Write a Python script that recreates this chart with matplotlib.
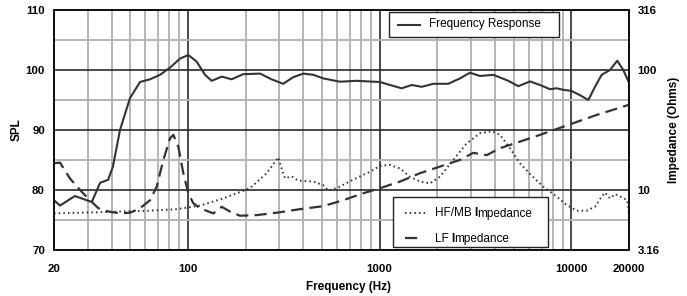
import matplotlib.pyplot as plt
from matplotlib.patches import Rectangle
from matplotlib.lines import Line2D
from matplotlib.ticker import FixedLocator, NullFormatter

plt.rcParams['font.family'] = ['Liberation Sans', 'DejaVu Sans']

W, H = 687, 296

# frequency response (dB SPL)
spl_freq = [20, 21.5, 25.7, 29.6, 31.5, 34.8, 38.3, 40.6, 44.2, 49.8, 56.2, 63.4,
            71.5, 80.6, 90.9, 100.4, 111, 122.7, 133, 150, 169, 194, 238, 273,
            314, 354, 400, 451, 508, 621, 759, 927, 1004, 1132, 1303, 1470, 1657,
            1905, 2280, 2626, 2962, 3340, 3918, 4692, 5292, 6088, 6864, 7740,
            8391, 9084, 10048, 11104, 12268, 13294, 14404, 15918, 17374, 18672, 20000]
spl = [78.3, 77.4, 79.0, 78.3, 78.0, 81.2, 81.7, 83.9, 90.0, 95.3, 98.0, 98.45,
       99.2, 100.4, 101.9, 102.5, 101.4, 99.2, 98.2, 98.9, 98.45, 99.3, 99.4, 98.45,
       97.7, 98.8, 99.4, 99.2, 98.6, 98.05, 98.2, 98.05, 98.0, 97.5, 96.95, 97.5, 97.2,
       97.7, 97.7, 98.6, 99.55, 99.0, 99.2, 98.2, 97.3, 98.1, 97.5, 96.8,
       96.95, 96.7, 96.5, 95.8, 95.0, 97.2, 99.2, 100.0, 101.55, 100.0, 97.9]

# HF/MB impedance (ohms)
hf_freq = [20, 34.8, 63.4, 87.4, 115.5, 152.9, 210.6, 257.6, 296, 308, 321, 348,
           376, 451, 508, 540, 597, 729, 891, 1004, 1132, 1277, 1440, 1624, 1831,
           2064, 2422, 2846, 3340, 3842, 4246, 4787, 5398, 6088, 6598, 7142, 8391,
           9462, 10670, 12030, 13294, 14404, 14990, 15918, 16900, 18310, 19590, 20000]
hf_z = [6.38, 6.53, 6.72, 6.92, 7.4, 8.51, 10.35, 13.8, 18.7, 15.1, 12.5, 13.0,
        11.96, 11.75, 10.96, 9.89, 10.35, 12.2, 14.2, 15.85, 16.2, 15.1, 12.9, 11.75, 11.35,
        12.9, 17.8, 24.5, 29.7, 30.9, 28.8, 22.3, 16.7, 13.6, 12.0, 10.66, 8.81,
        7.5, 6.72, 6.72, 7.24, 8.81, 9.5, 8.51, 9.23, 8.71, 8.22, 6.38]

# LF impedance (ohms)
lf_freq = [20, 21.5, 24.2, 27.9, 30.8, 34.1, 38.5, 44.2, 49.8, 56.2, 63.4, 68.7,
           74.4, 80.6, 83.9, 89.1, 94.6, 100.4, 106.6, 115.5, 135.6, 150, 165.7,
           186.8, 228, 290, 384, 508, 646, 822, 1004, 1277, 1624, 2064, 2626,
           3081, 3340, 3618, 4246, 5398, 6864, 9084, 13560, 20000]
lf_z = [16.7, 16.9, 12.5, 9.66, 8.22, 7.04, 6.61, 6.38, 6.46, 7.04, 8.22, 10.66,
        17.8, 26.9, 28.8, 22.9, 13.8, 9.39, 7.76, 7.04, 6.38, 7.24, 6.61,
        6.1, 6.17, 6.46, 6.92, 7.33, 8.22, 9.39, 10.35, 11.75, 13.8, 15.67, 17.8,
        20.4, 19.95, 19.5, 22.3, 25.3, 28.8, 33.7, 42.2, 51.3]

x_ticks = [20, 100, 1000, 10000, 20000]
x_minor = [30, 40, 50, 60, 70, 80, 90, 200, 300, 400, 500, 600, 700, 800, 900,
           2000, 3000, 4000, 5000, 6000, 7000, 8000, 9000]
spl_ticks = [70, 80, 90, 100, 110]
spl_minor = [75, 85, 95, 105]
z_ticks = [3.16, 10, 100, 316]
z_labels = ['3.16', '10', '100', '316']

line_col = '#333333'

fig = plt.figure(figsize=(W / 100, H / 100), dpi=100)
ax = fig.add_axes([54 / W, 1 - 250 / H, 575 / W, 240 / H])
ax2 = ax.twinx()

ax.set_xscale('log')
ax.set_xlim(20, 20000)
ax.set_ylim(70, 110)
ax.xaxis.set_major_locator(FixedLocator(x_ticks))
ax.xaxis.set_minor_locator(FixedLocator(x_minor))
ax.set_xticklabels([str(t) for t in x_ticks])
ax.xaxis.set_minor_formatter(NullFormatter())
ax.yaxis.set_major_locator(FixedLocator(spl_ticks))
ax.yaxis.set_minor_locator(FixedLocator(spl_minor))

ax.grid(True, which='major', color='#2a2a2a', lw=1.2)
ax.grid(True, which='minor', color='#b4b4b4', lw=1.4)
ax.set_axisbelow(True)

ax.plot(spl_freq, spl, color=line_col, lw=1.5, solid_capstyle='round')

ax2.set_yscale('log')
ax2.set_ylim(3.1599, 316.3)
ax2.yaxis.set_major_locator(FixedLocator(z_ticks))
ax2.set_yticklabels(z_labels)
ax2.yaxis.set_minor_locator(FixedLocator([]))
ax2.plot(hf_freq, hf_z, color=line_col, lw=1.4, ls=(0, (0.8, 1.6)))
ax2.plot(lf_freq, lf_z, color=line_col, lw=1.6, ls=(0, (5.5, 2.8)))

for a in (ax, ax2):
    for s in a.spines.values():
        s.set_linewidth(1.3)
        s.set_color('#111111')
    a.tick_params(which='both', length=0, labelsize=8.2)
    for lab in a.get_xticklabels() + a.get_yticklabels():
        lab.set_fontweight('bold')
ax.tick_params(axis='y', pad=6.5)
ax.tick_params(axis='x', pad=10)
ax2.tick_params(axis='y', pad=6.2)

ax.set_xlabel('Frequency (Hz)', fontsize=8.5, fontweight='bold')
ax.xaxis.set_label_coords(0.513, -0.128)
ax.set_ylabel('SPL', fontsize=8.5, fontweight='bold')
ax.yaxis.set_label_coords(-0.054, 0.5)
ax2.set_ylabel('Impedance (Ohms)', fontsize=8.5, fontweight='bold')
ax2.yaxis.set_label_coords(1.068, 0.5)


def fx(x):
    return x / W


def fy(y):
    return 1 - y / H


def box(x0, y0, x1, y1):
    fig.add_artist(Rectangle((fx(x0), fy(y1)), fx(x1) - fx(x0), fy(y0) - fy(y1),
                             transform=fig.transFigure, facecolor='white',
                             edgecolor='#222222', lw=1.0, zorder=5))


def sample(x0, x1, y, **kw):
    fig.add_artist(Line2D([fx(x0), fx(x1)], [fy(y), fy(y)], transform=fig.transFigure,
                          color=line_col, zorder=6, **kw))


leg_fs = 8.5

box(389, 12, 559, 37)
sample(398, 420, 24.5, lw=1.5)
fig.text(fx(429), fy(24.5), 'Frequency Response', fontsize=leg_fs, va='center', zorder=7)

box(393, 197, 548, 247)
sample(405, 425, 212.5, lw=1.4, ls=(0, (0.8, 1.6)))
sample(405, 423, 238, lw=1.6, ls=(0, (5.5, 2.8)))

renderer = fig.canvas.get_renderer()


def imp_label(prefix, y):
    # the "I" is set in bold in the original legend
    x = 435
    for piece, weight in ((prefix + ' ', 'normal'), ('I', 'bold'), ('mpedance', 'normal')):
        t = fig.text(fx(x), fy(y), piece, fontsize=leg_fs, fontweight=weight,
                     va='baseline', zorder=7)
        x = t.get_window_extent(renderer).x1 - 0.5


imp_label('HF/MB', 216.5)
imp_label('LF', 242)

fig.savefig('out.png', dpi=100)
